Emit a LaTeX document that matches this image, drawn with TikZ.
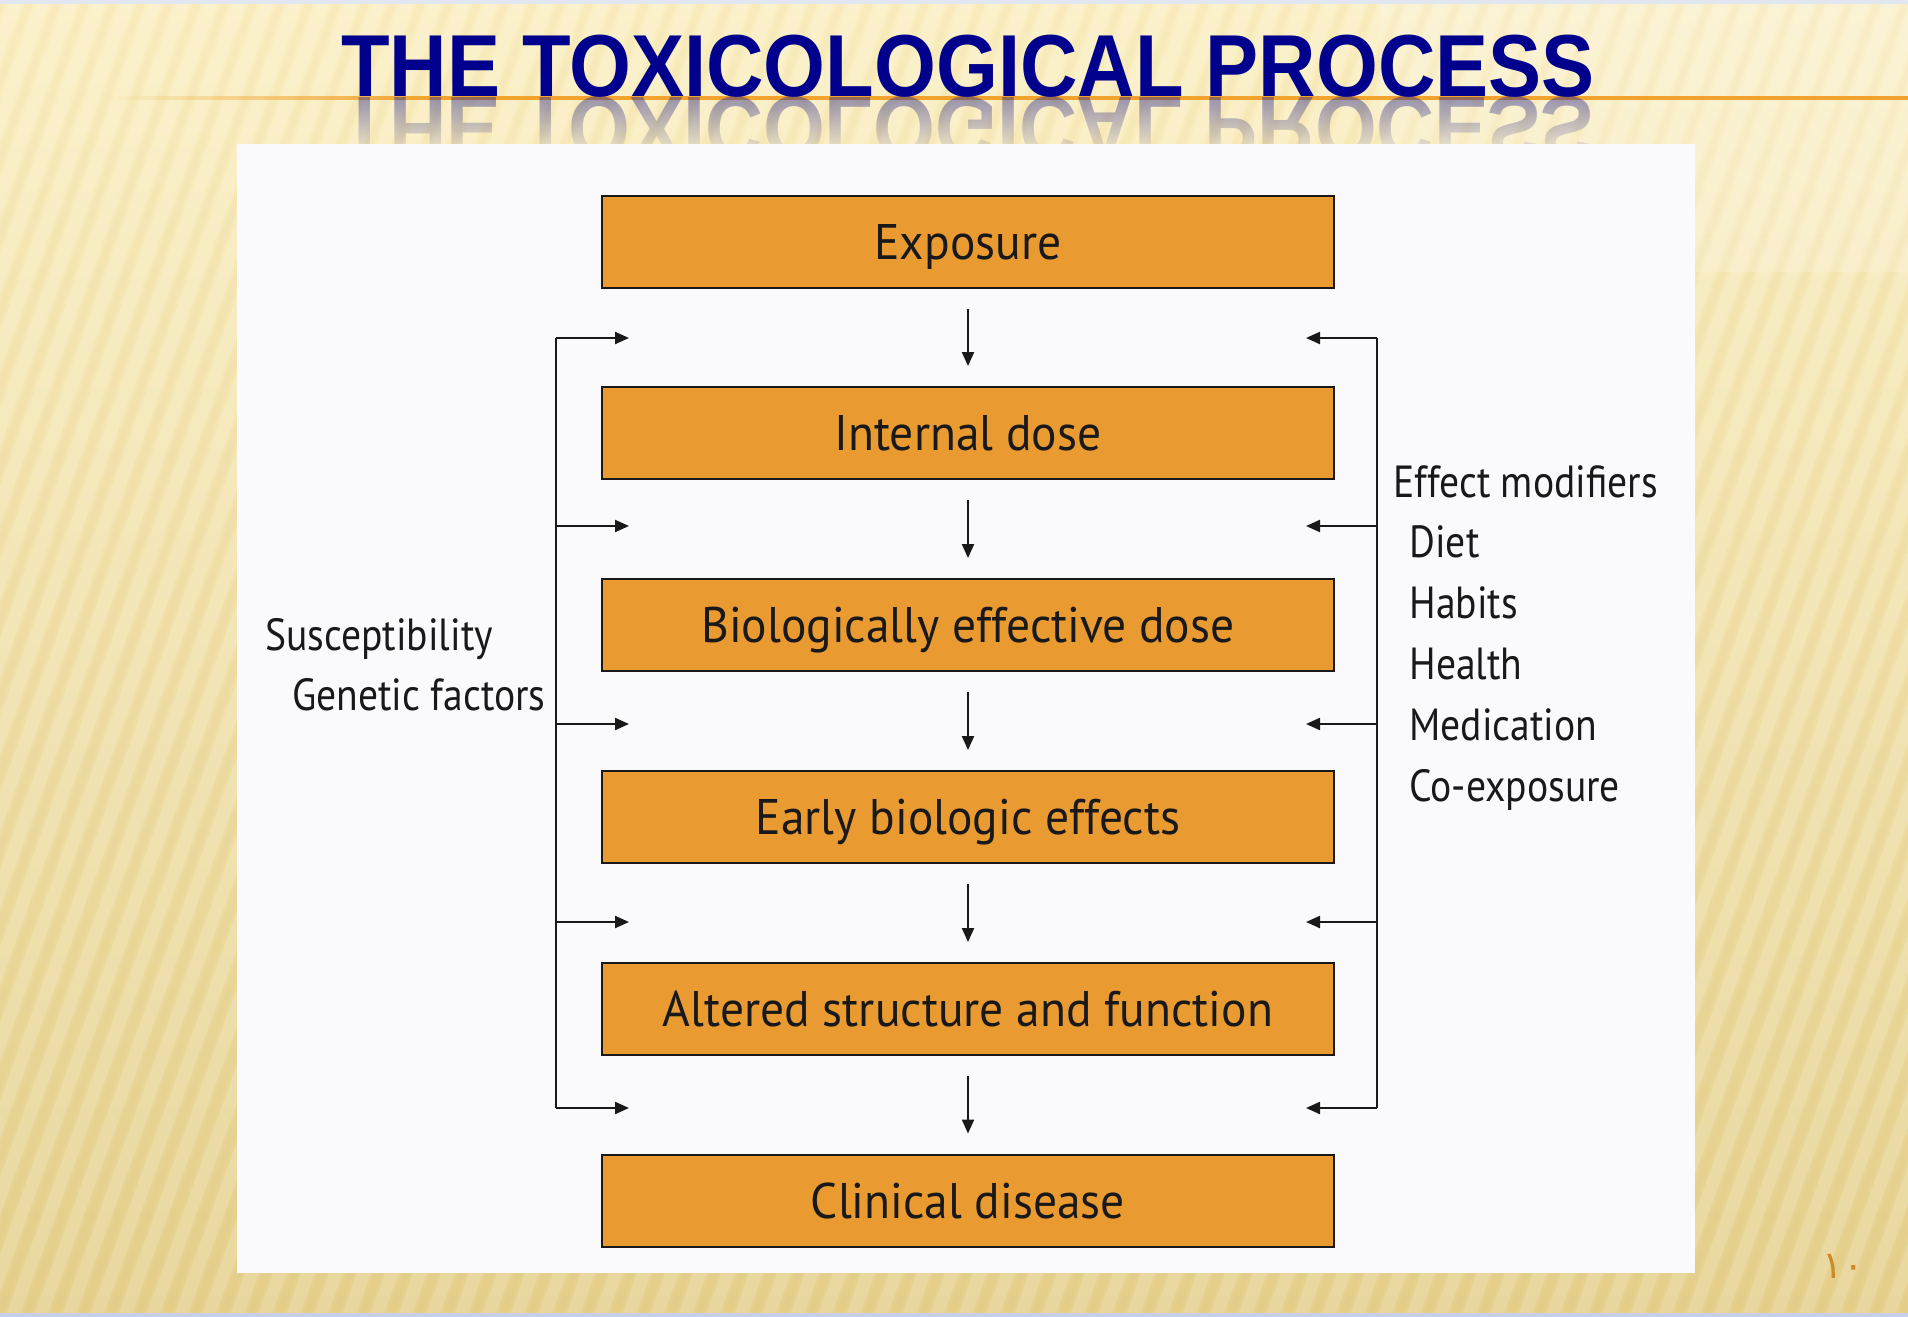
\documentclass[tikz,border=0pt]{standalone}
\usepackage{fontspec}
\setmainfont{PT Sans}
\newfontfamily\boxfam{PT Sans}[FakeStretch=0.95]
\newfontfamily\sidefam{PT Sans}[FakeStretch=0.88]
\newfontfamily\titlefont{Liberation Sans}
\newfontfamily\numfont{DejaVu Sans}
\usetikzlibrary{arrows.meta,fadings}

\definecolor{boxorange}{RGB}{233,155,50}
\definecolor{titleblue}{RGB}{0,0,140}
\definecolor{bgtop}{RGB}{251,239,194}
\definecolor{bgbot}{RGB}{229,208,140}
\definecolor{panelwhite}{RGB}{250,250,252}
\definecolor{rulecol}{RGB}{242,163,45}
\definecolor{pagenum}{RGB}{205,138,38}
\definecolor{topband}{RGB}{226,230,240}
\definecolor{botband}{RGB}{200,208,232}
\definecolor{inkcol}{RGB}{25,25,25}

\tikzfading[name=reflectfade, top color=transparent!55, bottom color=transparent!100]
\tikzfading[name=rulefade, left color=transparent!100, right color=transparent!0]

\newcommand\boxfont{\boxfam\fontsize{25}{30}\selectfont}
\newcommand\sidefont{\sidefam\fontsize{22.5}{28}\selectfont}
\newcommand\headfont{\titlefont\bfseries\fontsize{44}{44}\selectfont}

\tikzset{
  procbox/.style={draw=inkcol, line width=1pt, fill=boxorange,
    minimum width=366pt, minimum height=46pt, inner sep=0pt,
    text height=17.5pt, text depth=0pt, font=\boxfont, text=inkcol},
  sidelabel/.style={anchor=base west, inner sep=0pt, font=\sidefont, text=inkcol},
  arr/.style={draw=inkcol, line width=1.1pt, -{Triangle[length=7pt,width=6pt]}},
  spine/.style={draw=inkcol, line width=1.1pt},
}

\begin{document}
\begin{tikzpicture}[x=0.5pt, y=-0.5pt]
\useasboundingbox (0,0) rectangle (1908,1317);

% slide background: warm paper tone with soft diagonal stripes
\shade[top color=bgtop, bottom color=bgbot] (0,0) rectangle (1908,1317);
\foreach \i in {0,...,92} {
  \draw[white, opacity=0.17, line width=6.5pt] ({-520+\i*28},1317) -- ++(480,-1317);
  \draw[brown!60!bgbot, opacity=0.05, line width=3.5pt] ({-506+\i*28},1317) -- ++(480,-1317);
}
\fill[white, opacity=0.18] (1380,0) rectangle (1908,272);
\fill[topband] (0,0) rectangle (1908,4);
\fill[botband] (0,1313) rectangle (1908,1317);

% title rule
\fill[rulecol, path fading=rulefade] (110,96) rectangle (430,100);
\fill[rulecol] (430,96) rectangle (1908,100);

% mirrored title
\begin{scope}
  \path[scope fading=reflectfade, fit fading=true] (300,98) rectangle (1650,158);
  \node[anchor=base, inner sep=0pt, text=titleblue!70!gray] (titlemirror) at (968,98)
    {\headfont\scalebox{0.904}[-1]{THE TOXICOLOGICAL PROCESS}};
\end{scope}

% title
\node[anchor=base, inner sep=0pt, text=titleblue] (title) at (968,97)
  {\headfont\scalebox{0.904}[1]{THE TOXICOLOGICAL PROCESS}};

% white content panel
\fill[panelwhite] (237,143.6) rectangle (1695,1273);

% process chain
\node[procbox] (b1) at (968,242)   {Exposure};
\node[procbox] (b2) at (968,433)   {Internal dose};
\node[procbox] (b3) at (968,625)   {Biologically effective dose};
\node[procbox] (b4) at (968,817)   {Early biologic effects};
\node[procbox] (b5) at (968,1009)  {Altered structure and function};
\node[procbox] (b6) at (968,1200.5){Clinical disease};

\foreach \a/\b in {b1/b2, b2/b3, b3/b4, b4/b5, b5/b6}
  \draw[arr, shorten <=10pt, shorten >=10pt] (\a) -- (\b);

% side inputs
\foreach \k/\yy in {1/338, 2/526, 3/724, 4/922, 5/1108} {
  \coordinate (sl\k) at (556,\yy);
  \coordinate (tl\k) at (629,\yy);
  \coordinate (sr\k) at (1377,\yy);
  \coordinate (tr\k) at (1306,\yy);
}
\draw[spine] (sl1) -- (sl5);
\draw[spine] (sr1) -- (sr5);
\foreach \k in {1,...,5} {
  \draw[arr] (sl\k) -- (tl\k);
  \draw[arr] (sr\k) -- (tr\k);
}

% left labels
\node[sidelabel] (susc)  at (265,650) {Susceptibility};
\node[sidelabel] (genet) at (292,710) {Genetic factors};

% right labels
\node[sidelabel] (effmod) at (1393,497) {Effect modifiers};
\node[sidelabel] (diet)   at (1409,557) {Diet};
\node[sidelabel] (habits) at (1409,618) {Habits};
\node[sidelabel] (health) at (1409,679) {Health};
\node[sidelabel] (medic)  at (1409,740) {Medication};
\node[sidelabel] (coexp)  at (1409,801) {Co-exposure};

% slide number
\node[inner sep=0pt, text=pagenum, font=\numfont\fontsize{19}{19}\selectfont] (pnum) at (1843,1266) {١٠};
\end{tikzpicture}
\end{document}
